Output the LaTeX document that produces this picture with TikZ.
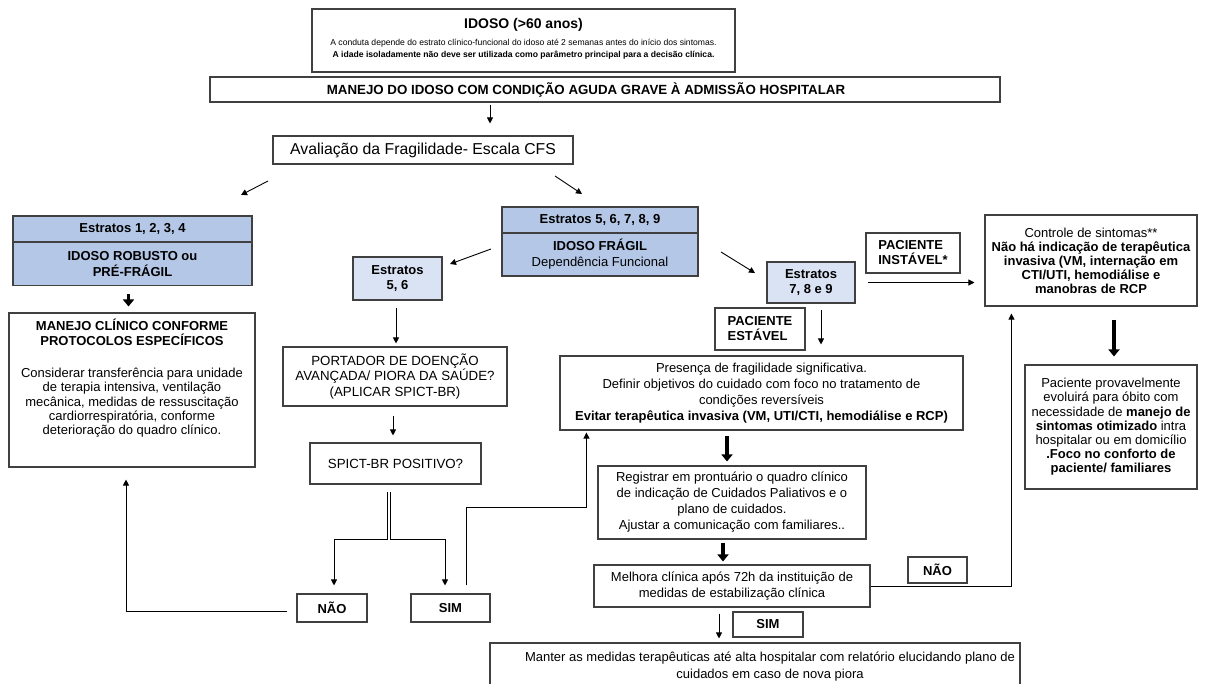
\documentclass[tikz,border=0pt]{standalone}
\usepackage{fontspec}
\setmainfont{Liberation Sans}
\usetikzlibrary{arrows.meta,calc}
\definecolor{bcol}{HTML}{404040}
\definecolor{bdark}{HTML}{B4C7E7}
\definecolor{blight}{HTML}{DAE3F3}
\newcommand\fsz[2]{\fontsize{#1}{#2}\selectfont}
\begin{document}
\begin{tikzpicture}[x=1pt,y=-1pt,
  box/.style={draw=bcol,line width=1.1pt,fill=white,inner sep=0pt,align=center,font=\fsz{13}{14.5}},
  txt/.style={inner sep=0pt,align=center},
  arr/.style={-{Triangle[width=6pt,length=6pt]},line width=0.9pt,black},
  tarr/.style={-{Triangle[width=11pt,length=7pt]},line width=3.4pt,black},
  dbl/.style={double=white,double distance=2pt,line width=0.8pt,draw=black}]
\useasboundingbox (0,0) rectangle (1206,683);
\clip (0,0) rectangle (1206,683);
\fill[white] (0,0) rectangle (1206,683);

% top box
\node[box,minimum width=423pt,minimum height=63pt] (top) at (523.5,40.5) {};
\node[txt,font=\fsz{14}{16}\bfseries] (t1) at (523.5,24.5) {IDOSO (>60 anos)};
\node[txt,font=\fsz{8.6}{10}] (t2) at (523.5,43.5) {A conduta depende do estrato clínico-funcional do idoso até 2 semanas antes do início dos sintomas.};
\node[txt,font=\fsz{8.6}{10}\bfseries] (t3) at (523.5,55) {A idade isoladamente não deve ser utilizada como parâmetro principal para a decisão clínica.};

\node[box,minimum width=790pt,minimum height=25pt] (manejo) at (605,89.5) {};
\node[txt,font=\fsz{13.3}{15}\bfseries] (manejot) at (586,89.5) {MANEJO DO IDOSO COM CONDIÇÃO AGUDA GRAVE À ADMISSÃO HOSPITALAR};

\node[box,minimum width=300pt,minimum height=28pt,font=\fsz{15.8}{17}] (aval) at (423,150) {Avaliação da Fragilidade- Escala CFS};

% left column
\node[box,fill=bdark,minimum width=239pt,minimum height=26pt,font=\fsz{13}{15}\bfseries] (e14a) at (132.5,229) {Estratos 1, 2, 3, 4};
\node[box,fill=bdark,minimum width=239pt,minimum height=43pt,font=\fsz{13}{15.5}\bfseries] (e14b) at (132.5,264) {IDOSO ROBUSTO ou\\PRÉ-FRÁGIL};
\node[box,minimum width=246pt,minimum height=154pt] (mc) at (132,390) {};
\node[txt,font=\fsz{13}{14.3}] (mct) at (132,378.5) {\textbf{MANEJO CLÍNICO CONFORME}\\\textbf{PROTOCOLOS ESPECÍFICOS}\\[18pt]Considerar transferência para unidade\\de terapia intensiva, ventilação\\mecânica, medidas de ressuscitação\\cardiorrespiratória, conforme\\deterioração do quadro clínico.};

% frail
\node[box,fill=bdark,minimum width=196pt,minimum height=26pt,font=\fsz{13}{15}\bfseries] (e59a) at (600,220) {Estratos 5, 6, 7, 8, 9};
\node[box,fill=bdark,minimum width=196pt,minimum height=43pt,font=\fsz{13}{16}] (e59b) at (600,254.5) {\textbf{IDOSO FRÁGIL}\\Dependência Funcional};

\node[box,fill=blight,minimum width=89pt,minimum height=43pt,font=\fsz{13}{15}\bfseries] (e56) at (397.5,278.5) {Estratos\\5, 6};
\node[box,minimum width=224pt,minimum height=59pt,font=\fsz{13.3}{15.5}] (portador) at (395,376.5) {PORTADOR DE DOENÇÃO\\AVANÇADA/ PIORA DA SAÚDE?\\(APLICAR SPICT-BR)};
\node[box,minimum width=171pt,minimum height=41pt,font=\fsz{13.3}{15}] (spict) at (395.5,463.5) {SPICT-BR POSITIVO?};
\node[box,minimum width=70pt,minimum height=28pt,font=\fsz{13}{15}\bfseries] (nao) at (332,608) {NÃO};
\node[box,minimum width=79pt,minimum height=28pt,font=\fsz{13}{15}\bfseries] (simA) at (450.5,608) {SIM};

\node[box,fill=blight,minimum width=88pt,minimum height=41pt,font=\fsz{13}{15}\bfseries] (e789) at (811,282.5) {Estratos\\7, 8 e 9};
\node[box,minimum width=94pt,minimum height=40pt,font=\fsz{13}{15}\bfseries,align=left] (pinst) at (913,253) {PACIENTE\\INSTÁVEL*};
\node[box,minimum width=90pt,minimum height=42pt,font=\fsz{13}{15}\bfseries,align=left] (pest) at (760,329) {PACIENTE\\ESTÁVEL};

\node[box,minimum width=212pt,minimum height=91pt,font=\fsz{13}{14}] (ctrl) at (1091,260.5) {Controle de sintomas**\\\textbf{Não há indicação de terapêutica}\\\textbf{invasiva (VM, internação em}\\\textbf{CTI/UTI, hemodiálise e}\\\textbf{manobras de RCP}};
\node[box,minimum width=172pt,minimum height=124pt,font=\fsz{13}{14.2}] (pac) at (1111,427) {Paciente provavelmente\\evoluirá para óbito com\\necessidade de \textbf{manejo de}\\\textbf{sintomas otimizado} intra\\hospitalar ou em domicílio\\\textbf{.Foco no conforto de}\\\textbf{paciente/ familiares}};

\node[box,minimum width=403pt,minimum height=74pt,font=\fsz{13}{16}] (pres) at (761.5,393) {Presença de fragilidade significativa.\\Definir objetivos do cuidado com foco no tratamento de\\condições reversíveis\\\textbf{Evitar terapêutica invasiva (VM, UTI/CTI, hemodiálise e RCP)}};
\node[box,minimum width=268pt,minimum height=73pt,font=\fsz{13}{16}] (reg) at (732,502.5) {Registrar em prontuário o quadro clínico\\de indicação de Cuidados Paliativos e o\\plano de cuidados.\\Ajustar a comunicação com familiares..};
\node[box,minimum width=276pt,minimum height=42pt,font=\fsz{13}{16}] (mel) at (732,586) {Melhora clínica após 72h da instituição de\\medidas de estabilização clínica};
\node[box,minimum width=70pt,minimum height=25pt,font=\fsz{13}{15}\bfseries] (simB) at (768,624.5) {SIM};
\node[box,minimum width=59pt,minimum height=26pt,font=\fsz{13}{15}\bfseries] (naoB) at (937.5,570) {NÃO};
\node[box,minimum width=530pt,minimum height=57pt] (man) at (755,671.5) {};
\node[txt,font=\fsz{13}{17}] (mant) at (770,666.5) {Manter as medidas terapêuticas até alta hospitalar com relatório elucidando plano de\\cuidados em caso de nova piora};

% connectors
\draw[arr] ($(manejo.south)+(-115,2)$) -- ($(aval.north)+(67,-12)$);
\coordinate (dl1) at (268,181); \coordinate (dl2) at (241,195);
\draw[arr] (dl1) -- (dl2);
\coordinate (dr1) at (555,176); \coordinate (dr2) at (582,194);
\draw[arr] (dr1) -- (dr2);
\draw[tarr] ($(e14b.south)+(-4,8)$) -- ($(mc.north)+(-3.5,-6)$);
\coordinate (fl1) at (491,249); \coordinate (fl2) at (450,264);
\draw[arr] (fl1) -- (fl2);
\coordinate (fr1) at (721,252); \coordinate (fr2) at (755,273);
\draw[arr] (fr1) -- (fr2);
\draw[arr] ($(e56.south)+(-1.5,7)$) -- ($(portador.north)+(1,-3)$);
\draw[arr] ($(portador.south)+(-2,9)$) -- ($(spict.north)+(-2.5,-7)$);
\coordinate (br) at (389,539);
\draw[dbl] ($(spict.south)+(-6.5,7)$) -- (br);
\draw[arr] ($(br)+(-1.4,0)$) -| ($(nao.north)+(2,-8)$);
\draw[arr] ($(br)+(1.4,0)$) -| ($(simA.north)+(-5.5,-8)$);
\draw[arr] ($(nao.west)+(-9,3)$) -| ($(mc.south)+(-6,12)$);
\draw[arr] ($(simA.north)+(15.5,-8)$) -- ($(simA.north)+(15.5,-86)$) -| ($(pres.south west)+(27,2)$);
\draw[arr] ($(e789.south)+(10,6)$) -- ($(pres.north)+(59.5,-11)$);
\draw[arr] ($(e789.east)+(12,0)$) -- ($(ctrl.west)+(-10,22)$);
\draw[tarr] ($(ctrl.south)+(23,13)$) -- ($(pac.north)+(3,-8)$);
\draw[tarr] ($(pres.south)+(-34.5,5)$) -- ($(reg.north)+(-5,-4)$);
\draw[tarr] ($(reg.south)+(-9,3)$) -- ($(mel.north)+(-9,-3)$);
\draw[arr] ($(mel.south)+(-13,6)$) -- ($(man.north)+(-36,-4)$);
\draw[arr] (mel.east) -| ($(ctrl.south west)+(27,7)$);
\end{tikzpicture}
\end{document}
